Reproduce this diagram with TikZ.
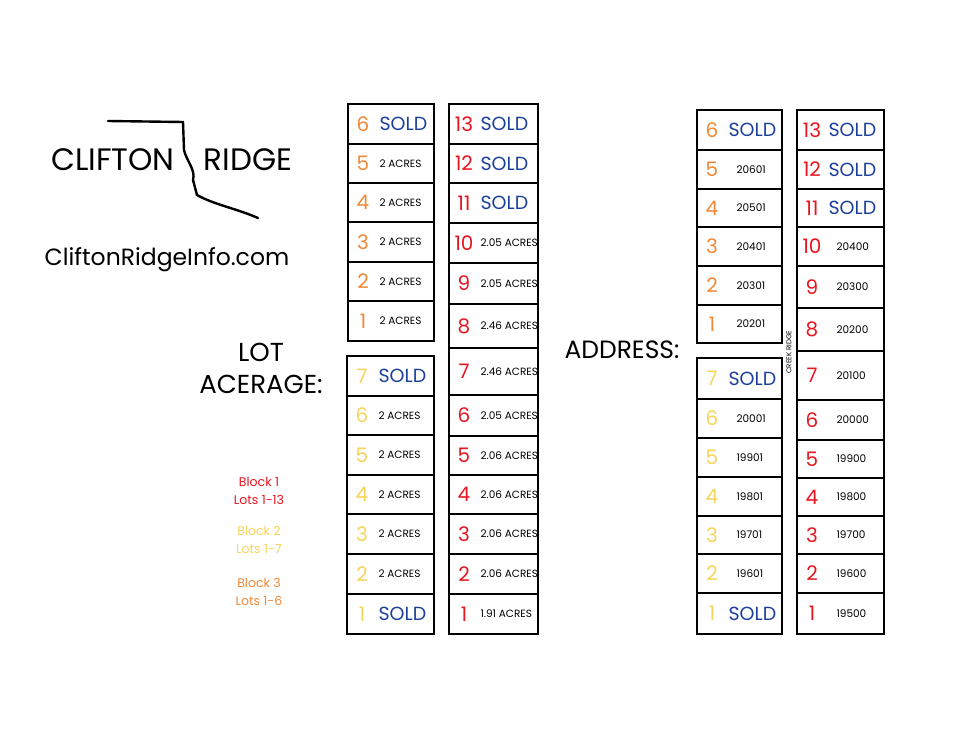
\documentclass[tikz,border=0pt]{standalone}
\usepackage{fontspec}
\setmainfont{Poppins}
\usetikzlibrary{positioning}
\definecolor{blkone}{HTML}{E8141E}
\definecolor{blktwo}{HTML}{F5D45A}
\definecolor{blkthree}{HTML}{F08838}
\definecolor{soldblue}{HTML}{1A3F9C}
\tikzset{
  cellbox/.style={draw,line width=1.8pt,inner sep=0pt},
  lotnum/.style={font=\fontsize{20}{20}\selectfont},
  sold/.style={text=soldblue,font=\fontsize{19}{19}\selectfont},
  small/.style={font=\fontsize{10.5}{10.5}\selectfont}
}
% one cell: x1,x2,y1,y2,number,colour,text,text style
\newcommand\lotcell[8]{%
  \draw[cellbox] (#1,#3) rectangle (#2,#4);
  \node[lotnum,text=#6] (n#1#5) at ({#1+15},{(#3+#4)/2}) {#5};
  \node[#8,anchor=west] (t#1#5) at ({#1+28},{(#3+#4)/2}) {#7};}
\begin{document}
\begin{tikzpicture}[x=1pt,y=-1pt]
\useasboundingbox (0,0) rectangle (980,735);
% logo
\node[font=\fontsize{31}{31}\selectfont] (clifton) at (113,160) {CLIFTON};
\node[font=\fontsize{31}{31}\selectfont] (ridge) at (248,160) {RIDGE};
\draw[line width=2.4pt,line cap=round] (108,121) -- (183,122) -- (184,150) .. controls (186,160) and (196,170) .. (193,180)
  -- (197,195) .. controls (215,205) and (235,208) .. (258,218);
\node[font=\fontsize{23.5}{23.5}\selectfont] (site) at (167,260) {CliftonRidgeInfo.com};
\node[font=\fontsize{26}{32}\selectfont,align=center] (lot) at (261,368) {LOT\\ACERAGE:};
\node[font=\fontsize{25}{25}\selectfont] (addr) at (622,350) {ADDRESS:};
\node[text=blkone,font=\fontsize{12.5}{18}\selectfont,align=center] (b1) at (259,491) {Block 1\\Lots 1-13};
\node[text=blktwo,font=\fontsize{12.5}{18}\selectfont,align=center] (b2) at (259,540) {Block 2\\Lots 1-7};
\node[text=blkthree,font=\fontsize{12.5}{18}\selectfont,align=center] (b3) at (259,592) {Block 3\\Lots 1-6};
% block 3, acreage
\lotcell{348}{434}{104}{144}{6}{blkthree}{SOLD}{sold}
\lotcell{348}{434}{144}{183}{5}{blkthree}{2 ACRES}{small}
\lotcell{348}{434}{183}{222}{4}{blkthree}{2 ACRES}{small}
\lotcell{348}{434}{222}{262}{3}{blkthree}{2 ACRES}{small}
\lotcell{348}{434}{262}{301}{2}{blkthree}{2 ACRES}{small}
\lotcell{348}{434}{301}{341}{1}{blkthree}{2 ACRES}{small}
% block 2, acreage
\lotcell{347}{434}{356}{396}{7}{blktwo}{SOLD}{sold}
\lotcell{347}{434}{396}{435}{6}{blktwo}{2 ACRES}{small}
\lotcell{347}{434}{435}{475}{5}{blktwo}{2 ACRES}{small}
\lotcell{347}{434}{475}{514}{4}{blktwo}{2 ACRES}{small}
\lotcell{347}{434}{514}{554}{3}{blktwo}{2 ACRES}{small}
\lotcell{347}{434}{554}{594}{2}{blktwo}{2 ACRES}{small}
\lotcell{347}{434}{594}{634}{1}{blktwo}{SOLD}{sold}
% block 1, acreage
\lotcell{449}{538}{104}{144}{13}{blkone}{SOLD}{sold}
\lotcell{449}{538}{144}{183}{12}{blkone}{SOLD}{sold}
\lotcell{449}{538}{183}{223}{11}{blkone}{SOLD}{sold}
\lotcell{449}{538}{223}{263}{10}{blkone}{2.05 ACRES}{small}
\lotcell{449}{538}{263}{304}{9}{blkone}{2.05 ACRES}{small}
\lotcell{449}{538}{304}{348}{8}{blkone}{2.46 ACRES}{small}
\lotcell{449}{538}{348}{395}{7}{blkone}{2.46 ACRES}{small}
\lotcell{449}{538}{395}{436}{6}{blkone}{2.05 ACRES}{small}
\lotcell{449}{538}{436}{475}{5}{blkone}{2.06 ACRES}{small}
\lotcell{449}{538}{475}{514}{4}{blkone}{2.06 ACRES}{small}
\lotcell{449}{538}{514}{554}{3}{blkone}{2.06 ACRES}{small}
\lotcell{449}{538}{554}{594}{2}{blkone}{2.06 ACRES}{small}
\lotcell{449}{538}{594}{634}{1}{blkone}{1.91 ACRES}{small}
% block 3, address
\lotcell{697}{782}{110}{150}{6}{blkthree}{SOLD}{sold}
\lotcell{697}{782}{150}{189}{5}{blkthree}{\hspace{8pt}20601}{small}
\lotcell{697}{782}{189}{227}{4}{blkthree}{\hspace{8pt}20501}{small}
\lotcell{697}{782}{227}{266}{3}{blkthree}{\hspace{8pt}20401}{small}
\lotcell{697}{782}{266}{305}{2}{blkthree}{\hspace{8pt}20301}{small}
\lotcell{697}{782}{305}{343}{1}{blkthree}{\hspace{8pt}20201}{small}
% block 2, address
\lotcell{697}{782}{358}{399}{7}{blktwo}{SOLD}{sold}
\lotcell{697}{782}{399}{438}{6}{blktwo}{\hspace{8pt}20001}{small}
\lotcell{697}{782}{438}{477}{5}{blktwo}{\hspace{8pt}19901}{small}
\lotcell{697}{782}{477}{516}{4}{blktwo}{\hspace{8pt}19801}{small}
\lotcell{697}{782}{516}{554}{3}{blktwo}{\hspace{8pt}19701}{small}
\lotcell{697}{782}{554}{593}{2}{blktwo}{\hspace{8pt}19601}{small}
\lotcell{697}{782}{593}{634}{1}{blktwo}{SOLD}{sold}
% block 1, address
\lotcell{797}{884}{110}{150}{13}{blkone}{SOLD}{sold}
\lotcell{797}{884}{150}{189}{12}{blkone}{SOLD}{sold}
\lotcell{797}{884}{189}{227}{11}{blkone}{SOLD}{sold}
\lotcell{797}{884}{227}{266}{10}{blkone}{\hspace{8pt}20400}{small}
\lotcell{797}{884}{266}{308}{9}{blkone}{\hspace{8pt}20300}{small}
\lotcell{797}{884}{308}{351}{8}{blkone}{\hspace{8pt}20200}{small}
\lotcell{797}{884}{351}{400}{7}{blkone}{\hspace{8pt}20100}{small}
\lotcell{797}{884}{400}{440}{6}{blkone}{\hspace{8pt}20000}{small}
\lotcell{797}{884}{440}{478}{5}{blkone}{\hspace{8pt}19900}{small}
\lotcell{797}{884}{478}{516}{4}{blkone}{\hspace{8pt}19800}{small}
\lotcell{797}{884}{516}{554}{3}{blkone}{\hspace{8pt}19700}{small}
\lotcell{797}{884}{554}{593}{2}{blkone}{\hspace{8pt}19600}{small}
\lotcell{797}{884}{593}{634}{1}{blkone}{\hspace{8pt}19500}{small}
\node[rotate=90,font=\fontsize{7}{7}\selectfont] (creek) at (789,352) {CREEK RIDGE};
\end{tikzpicture}
\end{document}
